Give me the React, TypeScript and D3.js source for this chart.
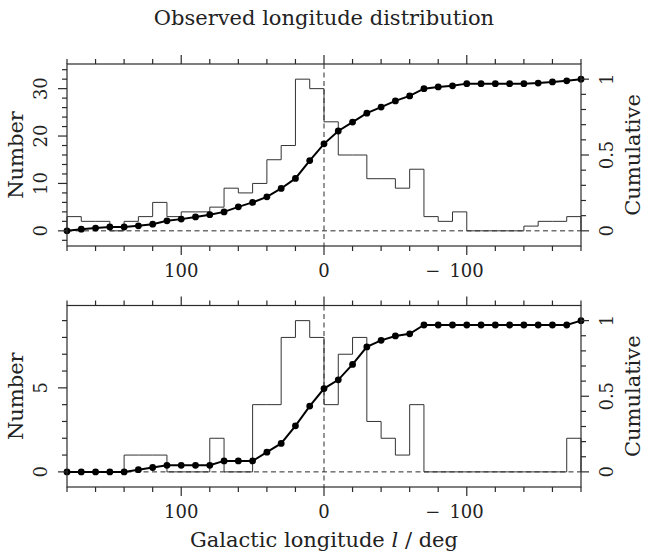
import React from 'react';
import * as d3 from 'd3';

// Bin starts (galactic longitude, deg), 10-degree bins from 180 down to -180
const binStarts = [180, 170, 160, 150, 140, 130, 120, 110, 100, 90, 80, 70, 60, 50, 40, 30, 20, 10,
  0, -10, -20, -30, -40, -50, -60, -70, -80, -90, -100, -110, -120, -130, -140, -150, -160, -170];
const binWidth = 10;

// Top panel histogram counts
const topCounts = [3, 2, 2, 0, 2, 3, 6, 3, 4, 4, 5, 9, 8, 10, 15, 18, 32, 30,
  23, 16, 16, 11, 11, 9, 13, 3, 2, 4, 0, 0, 0, 0, 1, 2, 2, 3];
// Bottom panel histogram counts
const bottomCounts = [0, 0, 0, 0, 1, 1, 1, 0, 0, 0, 2, 0, 0, 4, 4, 8, 9, 8,
  4, 7, 8, 3, 2, 1, 4, 0, 0, 0, 0, 0, 0, 0, 0, 0, 0, 2];

const xMajorTicks = [100, 0, -100];
const cumMajorTicks = [0, 0.5, 1];
const topMajorTicks = [0, 10, 20, 30];
const bottomMajorTicks = [0, 5];

const title = 'Observed longitude distribution';
const yLabel = 'Number';
const y2Label = 'Cumulative';

const W = 646;
const H = 558;
const X0 = 67;
const X1 = 581;
const SERIF = '"DejaVu Serif", serif';
const INK = '#2a2a2a';

const x = d3.scaleLinear().domain([180, -180]).range([X0, X1]);

type PanelProps = {
  counts: number[];
  top: number;
  bottom: number;
  minorStep: number;
  majorTicks: number[];
};

function Panel({ counts, top, bottom, minorStep, majorTicks }: PanelProps) {
  const max = d3.max(counts) as number;
  const y = d3.scaleLinear().domain([-0.1 * max, 1.1 * max]).range([bottom, top]);
  const total = d3.sum(counts);
  const cum = [0, ...Array.from(d3.cumsum(counts))].map((v) => v / total);
  const edges = [...binStarts, binStarts[binStarts.length - 1] - binWidth];

  const histPts: [number, number][] = [[180, 0]];
  counts.forEach((c, i) => {
    histPts.push([binStarts[i], c]);
    histPts.push([binStarts[i] - binWidth, c]);
  });
  histPts.push([-180, 0]);
  const line = d3.line<[number, number]>().x((d) => x(d[0])).y((d) => y(d[1]));

  const cumPts: [number, number][] = edges.map((e, i) => [e, cum[i] * max]);

  const xTicks = d3.range(180, -180.001, -20);
  const [d0, d1] = y.domain();
  const yTicks = d3.range(Math.ceil(d0 / minorStep) * minorStep, d1 + 1e-6, minorStep);
  const y2Ticks = d3.range(0, 10.001, 1).map((v) => v / 10);
  const mid = (top + bottom) / 2;

  return (
    <g>
      {/* zero lines */}
      <line x1={X0} x2={X1} y1={y(0)} y2={y(0)} stroke={INK} strokeWidth={1} strokeDasharray="5,3.5" />
      <line x1={x(0)} x2={x(0)} y1={top} y2={bottom} stroke={INK} strokeWidth={1} strokeDasharray="5,3.5" />
      {/* histogram */}
      <path d={line(histPts) || ''} fill="none" stroke="#333" strokeWidth={1} />
      {/* cumulative */}
      <path d={line(cumPts) || ''} fill="none" stroke="#000" strokeWidth={2} />
      {cumPts.map((p, i) => (
        <circle key={i} cx={x(p[0])} cy={y(p[1])} r={3.4} fill="#000" />
      ))}
      {/* frame */}
      <rect x={X0} y={top} width={X1 - X0} height={bottom - top} fill="none" stroke={INK} strokeWidth={1.2} />
      {/* x ticks */}
      {xTicks.map((t) => {
        const len = xMajorTicks.includes(t) ? 9 : 5;
        return (
          <g key={'x' + t}>
            <line x1={x(t)} x2={x(t)} y1={top} y2={top - len} stroke={INK} strokeWidth={1.2} />
            <line x1={x(t)} x2={x(t)} y1={bottom} y2={bottom + len} stroke={INK} strokeWidth={1.2} />
          </g>
        );
      })}
      {xMajorTicks.map((t) =>
        t < 0 ? (
          <text key={'xl' + t} x={x(t) + 17} y={bottom + 31} textAnchor="end" fontFamily={SERIF} fontSize={18} fill="#222">
            <tspan>−</tspan>
            <tspan dx={9}>{String(Math.abs(t))}</tspan>
          </text>
        ) : (
          <text key={'xl' + t} x={x(t)} y={bottom + 31} textAnchor="middle" fontFamily={SERIF} fontSize={18} fill="#222">
            {String(t)}
          </text>
        )
      )}
      {/* left y ticks */}
      {yTicks.map((t) => {
        const len = majorTicks.includes(Math.round(t)) ? 9 : 5;
        return <line key={'y' + t} x1={X0} x2={X0 - len} y1={y(t)} y2={y(t)} stroke={INK} strokeWidth={1.2} />;
      })}
      {majorTicks.map((t) => (
        <text key={'yl' + t} transform={`translate(47,${y(t)}) rotate(-90)`} textAnchor="middle" fontFamily={SERIF} fontSize={18} fill="#222">
          {String(t)}
        </text>
      ))}
      <text transform={`translate(23,${mid}) rotate(-90)`} textAnchor="middle" fontFamily={SERIF} fontSize={21} fill="#222">
        {yLabel}
      </text>
      {/* right y ticks (cumulative) */}
      {y2Ticks.map((t) => {
        const len = cumMajorTicks.some((m) => Math.abs(m - t) < 1e-6) ? 8 : 5;
        return <line key={'y2' + t} x1={X1} x2={X1 + len} y1={y(t * max)} y2={y(t * max)} stroke={INK} strokeWidth={1.2} />;
      })}
      {cumMajorTicks.map((t) => (
        <text key={'y2l' + t} transform={`translate(613,${y(t * max)}) rotate(-90)`} textAnchor="middle" fontFamily={SERIF} fontSize={18} fill="#222">
          {String(t)}
        </text>
      ))}
      <text transform={`translate(640,${mid}) rotate(-90)`} textAnchor="middle" fontFamily={SERIF} fontSize={21} fill="#222">
        {y2Label}
      </text>
    </g>
  );
}

export default function App() {
  return (
    <svg width={W} height={H} viewBox={`0 0 ${W} ${H}`} style={{ position: 'absolute', left: 0, top: 0, background: '#fff' }}>
      <rect x={0} y={0} width={W} height={H} fill="#fff" />
      <text x={324} y={24.5} textAnchor="middle" fontFamily={SERIF} fontSize={21} fill="#222">
        {title}
      </text>
      <Panel counts={topCounts} top={64} bottom={246} minorStep={2} majorTicks={topMajorTicks} />
      <Panel counts={bottomCounts} top={305.5} bottom={487} minorStep={1} majorTicks={bottomMajorTicks} />
      <text x={324} y={547} textAnchor="middle" fontFamily={SERIF} fontSize={21} fill="#222">
        <tspan>Galactic longitude </tspan>
        <tspan fontStyle="italic">l</tspan>
        <tspan> / deg</tspan>
      </text>
    </svg>
  );
}
